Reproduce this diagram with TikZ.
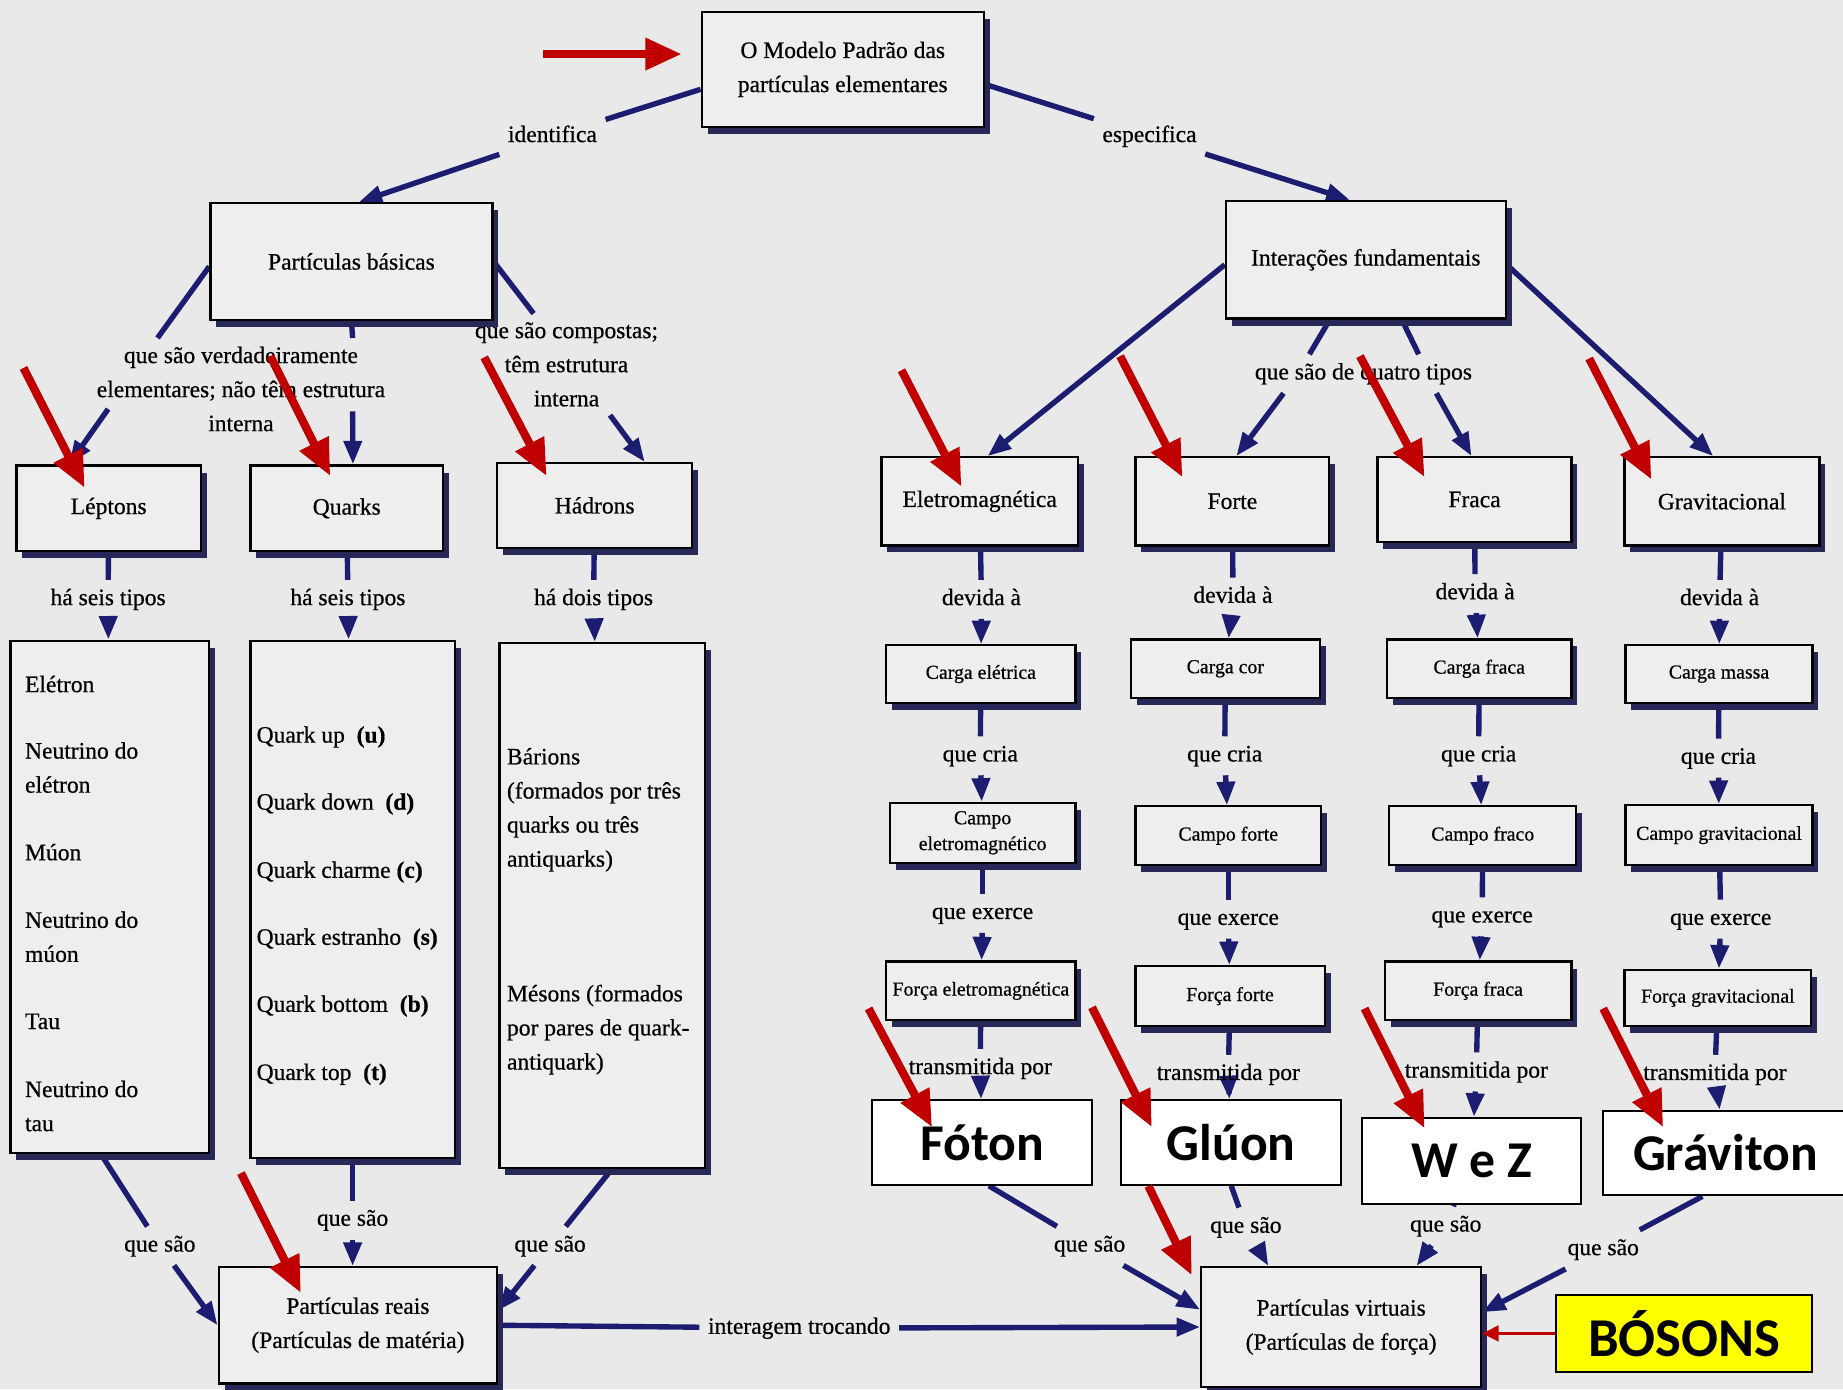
\documentclass[tikz,border=0pt]{standalone}
\usepackage{fontspec}
\setmainfont{Liberation Serif}[FakeBold=0.6]
\newfontfamily\calib{Carlito}
\usetikzlibrary{arrows.meta,shadows,calc}
\pgfdeclarelayer{bglayer}
\pgfdeclarelayer{conns}
\pgfdeclarelayer{front}
\pgfsetlayers{bglayer,conns,main,front}
\definecolor{bgc}{RGB}{233,233,233}
\definecolor{boxc}{RGB}{238,238,238}
\definecolor{shc}{RGB}{40,40,88}
\definecolor{navyc}{RGB}{28,28,112}
\definecolor{redc}{RGB}{192,0,0}
\definecolor{yel}{RGB}{255,255,0}
\newcommand\mainf{\fontsize{11.4}{16.5}\selectfont}
\newcommand\smallf{\fontsize{9.6}{12.5}\selectfont}
\newcommand\bigf{\calib\bfseries\fontsize{25}{30}\selectfont}
\tikzset{
  cbox/.style={draw=black, line width=1.1pt, fill=boxc, inner sep=2pt, align=center, font=\mainf,
    drop shadow={shadow xshift=0.1cm, shadow yshift=-0.12cm, fill=shc, opacity=1}},
  sbox/.style={cbox, font=\smallf},
  wbox/.style={draw=black, line width=1pt, fill=white, font=\bigf, inner sep=0pt},
  ybox/.style={wbox, fill=yel, font=\calib\bfseries\fontsize{26.5}{30}\selectfont},
  lbl/.style={font=\mainf, inner sep=4pt, text height=8pt, text depth=2.5pt},
  mlbl/.style={font=\mainf, inner sep=4pt, align=center},
  listitem/.style={font=\mainf, inner sep=0pt, anchor=west, align=left},
  conn/.style={draw=navyc, line width=2.6pt},
  carr/.style={conn, -{Triangle[length=0.4cm,width=0.3cm]}},
  redarr/.style={draw=redc, line width=0.14cm, -{Triangle[length=0.62cm,width=0.52cm]}},
  redthin/.style={draw=redc, line width=0.06cm, -{Triangle[length=0.28cm,width=0.26cm]}}
}
\begin{document}
\begin{tikzpicture}[x=0.02cm, y=-0.02cm]
\begin{pgfonlayer}{bglayer}
\fill[bgc] (0,0) rectangle (1568,1182);
\end{pgfonlayer}
\useasboundingbox (0,0) rectangle (1568,1182);

% ---- main boxes
\node[cbox, minimum width=4.8cm, minimum height=1.96cm] (top) at (717,59) {O Modelo Padrão das\\partículas elementares};
\node[cbox, minimum width=4.8cm, minimum height=1.98cm] (pb) at (299,222.5) {Partículas básicas};
\node[cbox, minimum width=4.76cm, minimum height=2cm] (ifu) at (1162,221) {Interações fundamentais};
\node[cbox, minimum width=3.14cm, minimum height=1.46cm] (lep) at (92.5,432.5) {Léptons};
\node[cbox, minimum width=3.28cm, minimum height=1.46cm] (qua) at (295,432.5) {Quarks};
\node[cbox, minimum width=3.32cm, minimum height=1.44cm] (had) at (506,430) {Hádrons};
\node[cbox, minimum width=3.38cm, minimum height=8.72cm] (leplist) at (93.5,763) {};
\node[cbox, minimum width=3.48cm, minimum height=8.8cm] (qualist) at (300,765) {};
\node[cbox, minimum width=3.5cm, minimum height=8.94cm] (hadlist) at (512.5,770.5) {};
\node[cbox, minimum width=4.74cm, minimum height=1.98cm] (pr) at (304.5,1127.5) {Partículas reais\\(Partículas de matéria)};
\node[cbox, minimum width=4.76cm, minimum height=2.04cm] (pv) at (1141,1129) {Partículas virtuais\\(Partículas de força)};

\node[cbox, minimum width=3.34cm, minimum height=1.5cm] (em) at (833.5,426.5) {Eletromagnética};
\node[cbox, minimum width=3.3cm, minimum height=1.5cm] (fo) at (1048.5,426.5) {Forte};
\node[cbox, minimum width=3.3cm, minimum height=1.44cm] (fr) at (1254.5,425) {Fraca};
\node[cbox, minimum width=3.32cm, minimum height=1.5cm] (gr) at (1465,426.5) {Gravitacional};

\node[sbox, minimum width=3.22cm, minimum height=0.98cm] (ce) at (834.5,573.5) {Carga elétrica};
\node[sbox, minimum width=3.22cm, minimum height=1cm] (cc) at (1042.5,569) {Carga cor};
\node[sbox, minimum width=3.14cm, minimum height=1cm] (cf) at (1258.5,569) {Carga fraca};
\node[sbox, minimum width=3.18cm, minimum height=0.98cm] (cm) at (1462.5,573.5) {Carga massa};

\node[sbox, minimum width=3.16cm, minimum height=1.02cm] (kem) at (836,708.5) {Campo\\eletromagnético};
\node[sbox, minimum width=3.16cm, minimum height=1cm] (kfo) at (1045,711) {Campo forte};
\node[sbox, minimum width=3.18cm, minimum height=1cm] (kfr) at (1261.5,711) {Campo fraco};
\node[sbox, minimum width=3.18cm, minimum height=1.02cm] (kgr) at (1462.5,710.5) {Campo gravitacional};

\node[sbox, minimum width=3.22cm, minimum height=1cm] (fem) at (834.5,843) {Força eletromagnética};
\node[sbox, minimum width=3.22cm, minimum height=1.02cm] (ffo) at (1046.5,847.5) {Força forte};
\node[sbox, minimum width=3.18cm, minimum height=1cm] (ffr) at (1257.5,843) {Força fraca};
\node[sbox, minimum width=3.18cm, minimum height=0.96cm] (fgr) at (1461.5,849) {Força gravitacional};

% ---- list items
\node[listitem] (l1) at (21,582) {Elétron};
\node[listitem] (l2) at (21,653) {Neutrino do\\elétron};
\node[listitem] (l3) at (21,725) {Múon};
\node[listitem] (l4) at (21,797) {Neutrino do\\múon};
\node[listitem] (l5) at (21,869) {Tau};
\node[listitem] (l6) at (21,941) {Neutrino do\\tau};
\node[listitem] (q1) at (218,627) {Quark up~~\textbf{(u)}};
\node[listitem] (q2) at (218,684) {Quark down~~\textbf{(d)}};
\node[listitem] (q3) at (218,742) {Quark charme \textbf{(c)}};
\node[listitem] (q4) at (218,799) {Quark estranho~~\textbf{(s)}};
\node[listitem] (q5) at (218,856) {Quark bottom~~\textbf{(b)}};
\node[listitem] (q6) at (218,914) {Quark top~~\textbf{(t)}};
\node[listitem] (h1) at (431,689) {Bárions\\(formados por três\\quarks ou três\\antiquarks)};
\node[listitem] (h2) at (431,876) {Mésons (formados\\por pares de quark-\\antiquark)};

% ---- labels
\node[lbl] (ident) at (470,116) {identifica};
\node[lbl] (espec) at (978,116) {especifica};
\node[mlbl] (lblver) at (205,331) {que são verdadeiramente\\elementares; não têm estrutura\\interna};
\node[mlbl] (lblcomp) at (482,310) {que são compostas;\\têm estrutura\\interna};
\node[lbl] (lblq) at (1160,318) {que são de quatro tipos};
\node[lbl] (seis1) at (92,510) {há seis tipos};
\node[lbl] (seis2) at (296,510) {há seis tipos};
\node[lbl] (dois) at (505,510) {há dois tipos};
\node[lbl] (qsl1) at (136,1060) {que são};
\node[lbl] (qsl2) at (300,1038) {que são};
\node[lbl] (qsl3) at (468,1060) {que são};
\node[lbl] (inter) at (680,1130) {interagem trocando};
\node[lbl] (dev1) at (835,510) {devida à};
\node[lbl] (dev2) at (1049,508) {devida à};
\node[lbl] (dev3) at (1255,505) {devida à};
\node[lbl] (dev4) at (1463,510) {devida à};
\node[lbl] (cria1) at (834,643) {que cria};
\node[lbl] (cria2) at (1042,643) {que cria};
\node[lbl] (cria3) at (1258,643) {que cria};
\node[lbl] (cria4) at (1462,645) {que cria};
\node[lbl] (ex1) at (836,777) {que exerce};
\node[lbl] (ex2) at (1045,782) {que exerce};
\node[lbl] (ex3) at (1261,780) {que exerce};
\node[lbl] (ex4) at (1464,782) {que exerce};
\node[lbl] (tr1) at (834,909) {transmitida por};
\node[lbl] (tr2) at (1045,914) {transmitida por};
\node[lbl] (tr3) at (1256,912) {transmitida por};
\node[lbl] (tr4) at (1459,914) {transmitida por};
\node[lbl] (qsr1) at (927,1060) {que são};
\node[lbl] (qsr2) at (1060,1044) {que são};
\node[lbl] (qsr3) at (1230,1043) {que são};
\node[lbl] (qsr4) at (1364,1063) {que são};

% ---- overlay boxes
\begin{pgfonlayer}{front}
\node[wbox, minimum width=3.74cm, minimum height=1.44cm] (foton) at (835.5,972) {Fóton};
\node[wbox, minimum width=3.74cm, minimum height=1.44cm] (gluon) at (1047.5,972) {Glúon};
\node[wbox, minimum width=3.72cm, minimum height=1.46cm] (wz) at (1252,987.5) {W e Z};
\node[wbox, minimum width=4.16cm, minimum height=1.44cm] (grav) at (1468,981) {Gráviton};
\node[ybox, minimum width=4.36cm, minimum height=1.3cm] (bosons) at (1433,1134.5) {BÓSONS};
\end{pgfonlayer}

% ---- connectors
\begin{pgfonlayer}{conns}
\draw[conn] (top.188) -- (ident);
\draw[carr] (ident) -- (pb.83);
\draw[conn] (top.354) -- (espec);
\draw[carr] (espec) -- (ifu.105);
\draw[conn] (pb.182) -- ($(lblver.north)+(-71,0)$);
\draw[carr] ($(lblver.center)+(-113,17)$) -- (lep.132);
\draw[conn] (pb.south) -- ($(lblver.north)+(95,0)$);
\draw[carr] ($(lblver.center)+(95,19)$) -- (qua.82);
\draw[conn] (pb.east) -- ($(lblcomp.north)+(-28,0)$);
\draw[carr] ($(lblcomp.south)+(37,0)$) -- (had.41);
\draw[conn] (lep) -- (seis1);
\draw[carr] (seis1) -- (leplist);
\draw[conn] (qua) -- (seis2);
\draw[carr] (seis2) -- (qualist);
\draw[conn] (had) -- (dois);
\draw[carr] (dois) -- (hadlist);
\draw[conn] (leplist.268) -- (qsl1);
\draw[carr] (qsl1) -- (pr.west);
\draw[conn] (qualist) -- (qsl2);
\draw[carr] (qsl2) -- (pr.north -| qsl2);
\draw[conn] (hadlist.272) -- (qsl3);
\draw[carr] (qsl3) -- (pr.6);
\draw[conn] (pr.east) -- (inter);
\draw[carr] (inter) -- (pv.west);
\draw[carr] (ifu.182) -- (em.80);
\draw[carr] (ifu.358) -- (gr.101);
\draw[conn] (ifu.239) -- ($(lblq.north)+(-46,0)$);
\draw[conn] (ifu.301) -- ($(lblq.north)+(47,0)$);
\draw[carr] ($(lblq.south)+(-68,0)$) -- (fo.85);
\draw[carr] ($(lblq.south)+(62,0)$) -- (fr.94);
\foreach \a/\b/\c/\d/\e/\f/\g/\h/\i in {em/dev1/ce/cria1/kem/ex1/fem/tr1/foton, fo/dev2/cc/cria2/kfo/ex2/ffo/tr2/gluon, fr/dev3/cf/cria3/kfr/ex3/ffr/tr3/wz, gr/dev4/cm/cria4/kgr/ex4/fgr/tr4/grav}{
  \draw[conn] (\a) -- (\b);
  \draw[carr] (\b) -- (\c);
  \draw[conn] (\c) -- (\d);
  \draw[carr] (\d) -- (\e);
  \draw[conn] (\e) -- (\f);
  \draw[carr] (\f) -- (\g);
  \draw[conn] (\g) -- (\h);
  \draw[carr] (\h) -- (\i);
}
\draw[conn] (foton.279) -- (qsr1);
\draw[carr] (qsr1) -- (pv.173);
\draw[conn] (gluon.south) -- (qsr2);
\draw[carr] (qsr2) -- (pv.140);
\draw[conn] (wz) -- (qsr3);
\draw[carr] (qsr3) -- (pv.39);
\draw[conn] (grav.242) -- (qsr4);
\draw[carr] (qsr4) -- (pv.6);
\end{pgfonlayer}

% ---- red pointer arrows
\begin{pgfonlayer}{front}
\coordinate (r0s) at (462,46);   \coordinate (r0e) at (580,46);
\coordinate (r1s) at (20,313);   \coordinate (r1e) at (72,415);
\coordinate (r2s) at (230,303);  \coordinate (r2e) at (281,405);
\coordinate (r3s) at (412,304);  \coordinate (r3e) at (465,405);
\coordinate (r4s) at (767,315);  \coordinate (r4e) at (818,414);
\coordinate (r5s) at (953,303);  \coordinate (r5e) at (1006,406);
\coordinate (r6s) at (1157,303); \coordinate (r6e) at (1212,406);
\coordinate (r7s) at (1352,305); \coordinate (r7e) at (1405,408);
\coordinate (r8s) at (739,858);  \coordinate (r8e) at (793,959);
\coordinate (r9s) at (929,857);  \coordinate (r9e) at (980,959);
\coordinate (r10s) at (1161,858); \coordinate (r10e) at (1212,960);
\coordinate (r11s) at (1364,858); \coordinate (r11e) at (1415,959);
\coordinate (r12s) at (205,998);  \coordinate (r12e) at (256,1100);
\coordinate (r13s) at (977,1009); \coordinate (r13e) at (1014,1085);
\foreach \k in {0,...,13}{\draw[redarr] (r\k s) -- (r\k e);}
\draw[redthin] (bosons.west) -- (pv.east |- bosons.west);
\end{pgfonlayer}
\end{tikzpicture}
\end{document}
